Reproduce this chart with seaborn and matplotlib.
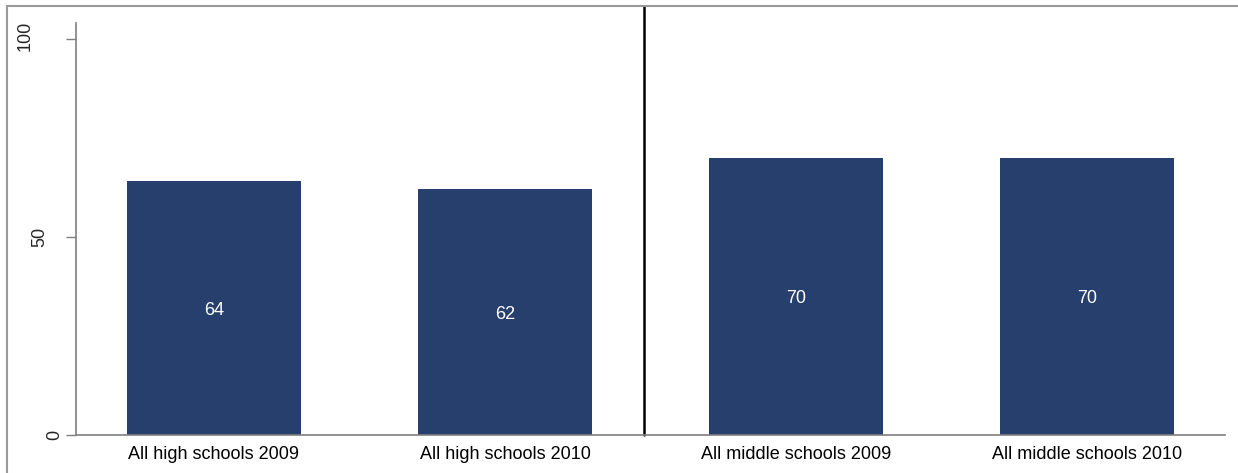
import matplotlib
matplotlib.use("Agg")
import matplotlib.pyplot as plt
import seaborn as sns
import pandas as pd
from matplotlib.patches import Rectangle

groups = ["All high schools 2009", "All high schools 2010",
          "All middle schools 2009", "All middle schools 2010"]
values = [64, 62, 70, 70]
labels = ["64", "62", "70", "70"]
yticks = [0, 50, 100]
ytick_labels = ["0", "50", "100"]

df = pd.DataFrame({"group": groups, "value": values})

sns.set_style("white")
plt.rcParams['font.family'] = ['Liberation Sans', 'DejaVu Sans']

W, H = 1238, 473
fig = plt.figure(figsize=(W / 100, H / 100), dpi=100)
ax = fig.add_axes([76 / W, 1 - 435 / H, (1225 - 76) / W, (435 - 23) / H])

sns.barplot(data=df, x="group", y="value", color="#273f6d", width=0.6,
            saturation=1, linewidth=0, ax=ax)

for i, (v, t) in enumerate(zip(values, labels)):
    ax.text(i, v / 2 - 0.5, t, ha="center", va="center", color="white", fontsize=13)

ax.set_xlim(-0.474, 3.474)
ax.set_ylim(0, 104)
ax.set_yticks(yticks)
ax.set_yticklabels([])
ax.set_xlabel("")
ax.set_ylabel("")
ax.tick_params(axis="y", length=7, width=1, color="#7f7f7f", left=True)
ax.tick_params(axis="x", length=0, labelsize=13, labelcolor="black", pad=8)

# rotated y labels, offset the way the original places them
dx = [-21, -36, -51]
dy = [0, 0, 3]
for y, t, ox, oy in zip(yticks, ytick_labels, dx, dy):
    ax.annotate(t, xy=(0, y), xycoords=ax.get_yaxis_transform(),
                xytext=(ox, oy), textcoords="offset pixels", rotation=90,
                ha="center", va="center", fontsize=13, annotation_clip=False)

for s in ["top", "right"]:
    ax.spines[s].set_visible(False)
for s in ["left", "bottom"]:
    ax.spines[s].set_color("#7f7f7f")
    ax.spines[s].set_linewidth(1.2)

# divider between high and middle schools, running up to the frame
ax.axvline(1.478, ymin=0, ymax=(435 - 6) / (435 - 23), color="black", lw=1.8,
           clip_on=False)

# outer frame (top and left visible)
fig.patches.append(Rectangle((7 / W, -0.1), 1.1, 1 - 6 / H + 0.1,
                             transform=fig.transFigure, fill=False,
                             edgecolor="#999999", lw=1.5, zorder=0))

fig.savefig("out.png", dpi=100)
